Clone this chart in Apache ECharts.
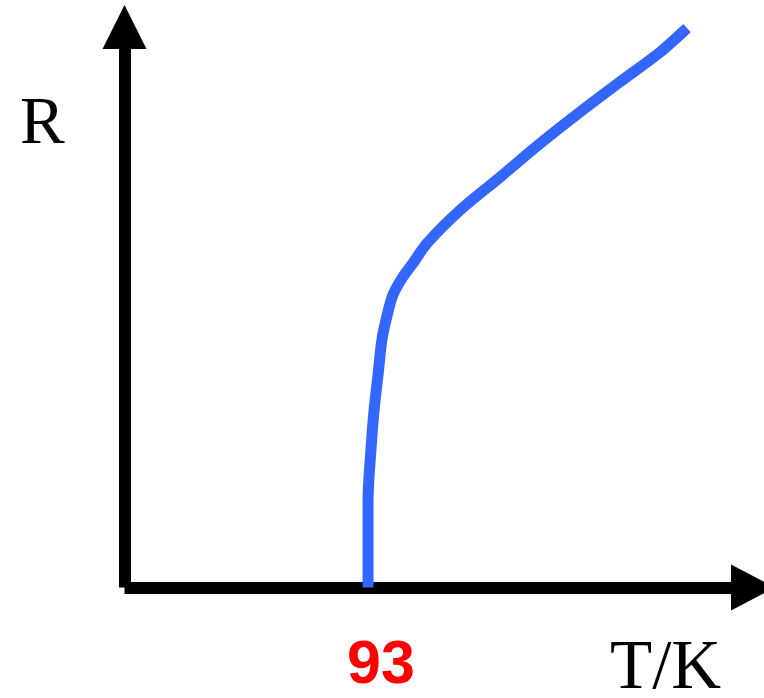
<!DOCTYPE html>
<html>
<head>
<meta charset="utf-8">
<title>R vs T</title>
<script src="https://cdn.jsdelivr.net/npm/echarts@6/dist/echarts.min.js"></script>
<style>
  html, body { margin: 0; padding: 0; background: #fff; }
  #chart { width: 764px; height: 698px; }
</style>
</head>
<body>
<div id="chart"></div>
<script>
// temperature T (K) and resistance R (arbitrary units)
const temps = [93.0, 93.0, 94.1, 95.3, 96.8, 98.3, 100.3, 102.5, 106.0, 110.2,
  115.5, 128.1, 143.4, 158.7, 173.9, 189.2, 204.5, 214.8];
const resist = [0, 1.56, 2.45, 3.16, 3.79, 4.42, 4.86, 5.22, 5.52, 5.79,
  6.14, 6.73, 7.32, 7.92, 8.48, 9.02, 9.55, 9.98];

// only the critical temperature is marked on the T axis
const tickTemps = [93];

const chart = echarts.init(document.getElementById("chart"));

const serif = "'Liberation Serif', 'DejaVu Serif', serif";

chart.setOption({
  backgroundColor: "#fff",
  animation: false,
  grid: { left: 124.5, right: 11, top: 27, bottom: 110.5 },
  xAxis: {
    type: "value",
    min: 0,
    max: 240,
    axisLine: {
      show: true,
      onZero: false,
      symbol: ["none", "triangle"],
      symbolSize: [46, 44],
      lineStyle: { color: "#000", width: 12, cap: "butt" },
    },
    axisTick: { show: false },
    splitLine: { show: false },
    axisLabel: {
      customValues: tickTemps,
      color: "#ff0000",
      fontFamily: "'Liberation Sans', Arial, sans-serif",
      fontWeight: "bold",
      fontSize: 61,
      verticalAlign: "middle",
      margin: 79,
      padding: [0, 0, 0, 26],
    },
  },
  yAxis: {
    type: "value",
    min: 0,
    max: 10,
    axisLine: {
      show: true,
      symbol: ["none", "triangle"],
      symbolSize: [44, 44],
      lineStyle: { color: "#000", width: 12, cap: "butt" },
    },
    axisTick: { show: false },
    splitLine: { show: false },
    axisLabel: { show: false },
  },
  graphic: [
    {
      type: "text",
      left: 20,
      top: 92,
      style: { text: "R", font: "67px " + serif, fill: "#000" },
    },
    {
      type: "text",
      left: 610,
      top: 635,
      style: { text: "T/K", font: "69px " + serif, fill: "#000" },
    },
  ],
  series: [
    {
      type: "line",
      data: temps.map((t, i) => [t, resist[i]]),
      smooth: 0.3,
      symbol: "none",
      lineStyle: { color: "#3366ff", width: 11, cap: "butt" },
    },
  ],
});
</script>
</body>
</html>
